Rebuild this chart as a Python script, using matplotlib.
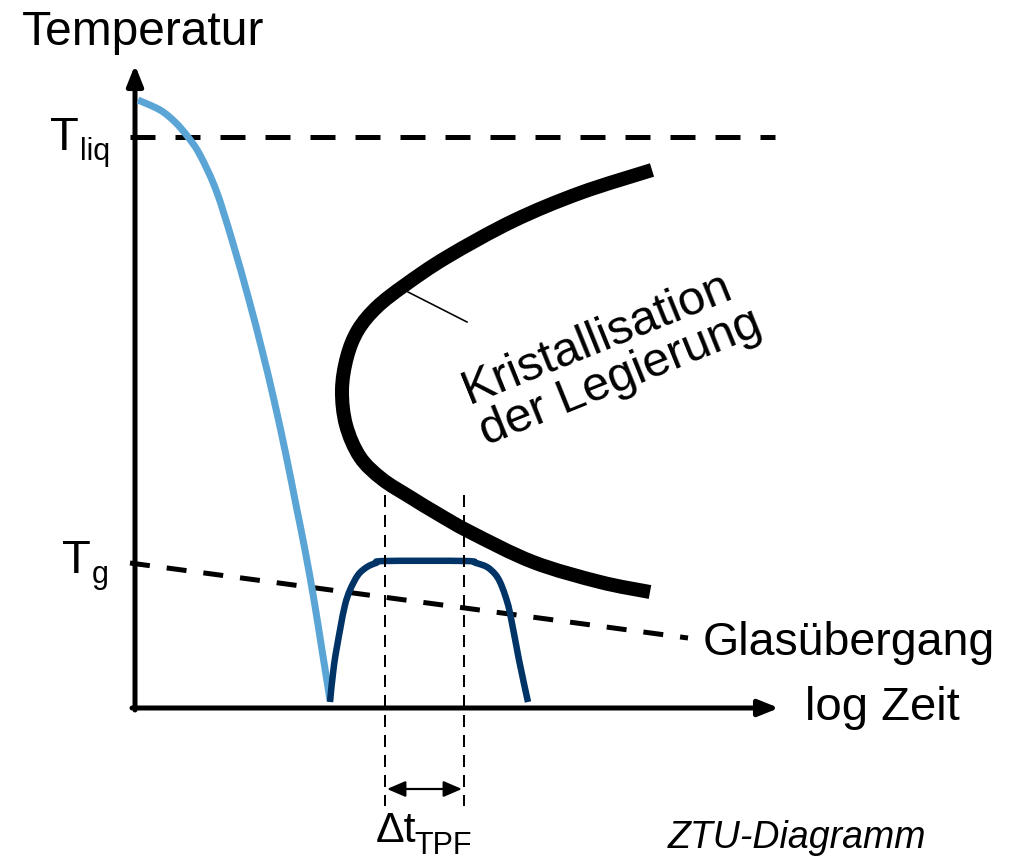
import matplotlib.pyplot as plt
from matplotlib.path import Path
from matplotlib.patches import PathPatch

# Schematic ZTU diagram, everything in the picture's pixel frame (y grows downward).
W, H = 1018, 856

# light blue cooling curve
cool_x = [138, 160, 175, 188, 200, 216, 232, 249, 262, 274, 286, 296, 305, 314, 322, 330]
cool_y = [100, 110, 122, 137, 155, 190, 240, 300, 350, 400, 455, 505, 550, 600, 650, 700]

# dark blue treatment curve (TPF window)
tpf_x = [330, 334, 340, 345, 350, 358, 367, 376, 385, 465, 476, 487, 495, 500, 505, 510, 519, 528]
tpf_y = [702, 665, 630, 605, 590, 575, 567, 563, 561, 561, 563, 567, 574, 582, 595, 613, 660, 702]

# crystallisation nose (C curve)
nose_x = [652, 580, 513, 447, 405, 377, 358, 347, 342, 346, 360, 382, 410, 438, 470, 533, 600, 650]
nose_y = [170, 193, 221, 257, 285, 307, 330, 357, 390, 425, 457, 479, 497, 514, 532, 562, 582, 592]

# reference levels
axis_origin = (135, 708)
y_tip = 65
x_tip = 779
t_liq = 137
t_liq_end = 775
tg_x = [130, 688]
tg_y = [563, 638]
window_x = [385, 464]
window_top, window_bottom = 495, 806
arrow_y = 789

FONT = ["Liberation Sans", "DejaVu Sans"]
LIGHT_BLUE = "#5AA5D6"
DARK_BLUE = "#003366"
PX = 0.72  # points per pixel at dpi 100

plt.rcParams["font.family"] = FONT
plt.rcParams["lines.scale_dashes"] = False


def smooth_path(xs, ys):
    """Cubic Bezier path through the given points (Catmull-Rom tangents)."""
    pts = list(zip(xs, ys))
    n = len(pts)
    verts = [pts[0]]
    codes = [Path.MOVETO]
    for i in range(n - 1):
        p0 = pts[max(i - 1, 0)]
        p1 = pts[i]
        p2 = pts[i + 1]
        p3 = pts[min(i + 2, n - 1)]
        c1 = (p1[0] + (p2[0] - p0[0]) / 6, p1[1] + (p2[1] - p0[1]) / 6)
        c2 = (p2[0] - (p3[0] - p1[0]) / 6, p2[1] - (p3[1] - p1[1]) / 6)
        verts += [c1, c2, p2]
        codes += [Path.CURVE4] * 3
    return Path(verts, codes)


def draw_curve(ax, xs, ys, color, width, z):
    patch = PathPatch(smooth_path(xs, ys), fill=False, edgecolor=color,
                      lw=width, capstyle="butt", joinstyle="round", zorder=z)
    ax.add_patch(patch)


fig = plt.figure(figsize=(W / 100, H / 100), dpi=100)
ax = fig.add_axes([0, 0, 1, 1])
ax.set_xlim(0, W)
ax.set_ylim(H, 0)
ax.axis("off")

# axes with arrow heads
ox, oy = axis_origin
arrow_kw = dict(
    arrowstyle="-|>,head_length=0.55,head_width=0.22",
    mutation_scale=22,
    lw=5 * PX,
    color="black",
    shrinkA=0,
    shrinkB=0,
)
ax.annotate("", xy=(ox, y_tip), xytext=(ox, oy + 2), arrowprops=arrow_kw)
ax.annotate("", xy=(x_tip, oy), xytext=(ox - 3, oy), arrowprops=arrow_kw)

# T_liq and T_g dashed lines
ax.plot([130, t_liq_end], [t_liq, t_liq], color="black", lw=5 * PX,
        dashes=(25 * PX, 20 * PX), dash_capstyle="butt")
ax.plot(tg_x, tg_y, color="black", lw=5 * PX,
        dashes=(20 * PX, 17 * PX), dash_capstyle="butt")

# curves
draw_curve(ax, cool_x, cool_y, LIGHT_BLUE, 7 * PX, 3)
draw_curve(ax, nose_x, nose_y, "black", 14 * PX, 3)
draw_curve(ax, tpf_x, tpf_y, DARK_BLUE, 6.5 * PX, 4)

# processing window markers
for wx in window_x:
    ax.plot([wx, wx], [window_top, window_bottom], color="black", lw=2 * PX,
            dashes=(12 * PX, 8 * PX), zorder=5)
ax.annotate("", xy=(window_x[0] + 2, arrow_y), xytext=(window_x[1] - 2, arrow_y),
            arrowprops=dict(arrowstyle="<|-|>,head_length=0.7,head_width=0.3",
                            mutation_scale=16, lw=2.2 * PX, color="black",
                            shrinkA=0, shrinkB=0))

# leader line to the crystallisation label
ax.plot([408, 467], [292, 322], color="black", lw=1.6 * PX)

# texts
ax.text(22, 45, "Temperatur", fontsize=34.5, va="baseline", ha="left")
ax.text(50, 150, "T", fontsize=34, va="baseline", ha="left")
ax.text(80, 160, "liq", fontsize=22, va="baseline", ha="left")
ax.text(62, 573, "T", fontsize=34, va="baseline", ha="left")
ax.text(92, 583, "g", fontsize=22, va="baseline", ha="left")
ax.text(703, 655, "Glasübergang", fontsize=33.5, va="baseline", ha="left")
ax.text(805, 720, "log Zeit", fontsize=34, va="baseline", ha="left")
ax.text(668, 848, "ZTU-Diagramm", fontsize=27, style="italic", va="baseline", ha="left")
ax.text(376, 842, "Δt", fontsize=31, va="baseline", ha="left")
ax.text(414, 854, "TPF", fontsize=22, va="baseline", ha="left")
ax.text(612, 357, "Kristallisation\nder Legierung", fontsize=35, rotation=22,
        rotation_mode="anchor", ha="center", va="center", multialignment="left",
        linespacing=1.0)

fig.savefig("out.png", dpi=100)
